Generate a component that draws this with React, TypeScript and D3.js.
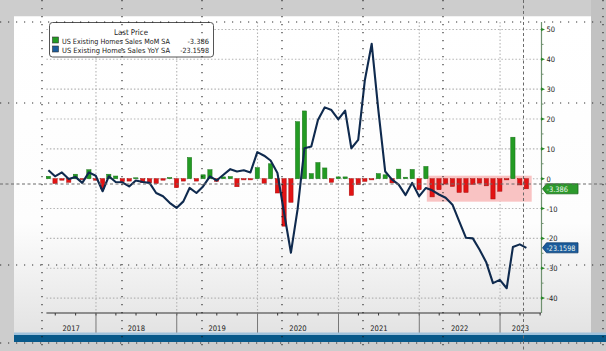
import { useMemo } from "react";
import * as d3 from "d3";

// monthly prints, first one is May 2017 (plotted at month end like the terminal does)
const firstMonth = new Date(2017, 4, 1);
const momSA = [
  0.8, -1.6, -0.5, -1.2, 1.5, -0.3, 3.0, -0.5, -3.4, 1.5,
  0.9, -1.0, -0.8, 0.3, -1.3, -1.4, -1.6, -0.5, 0.4, -3.0,
  -0.8, 7.1, -0.8, 1.3, 3.0, -0.9, 0.6, 0.7, -2.7, -0.4,
  -0.4, 3.7, -1.5, 5.0, -4.8, -15.9, -7.9, 19.1, 22.7, 1.7,
  5.4, 3.6, -1.2, 0.6, 0.6, -5.6, -2.0, -0.9, -0.4, 1.7,
  1.3, -1.4, 3.2, 0.5, 3.1, -3.7, 4.1, -6.1, -3.7, -1.8,
  -2.6, -4.6, -4.6, -1.9, -1.5, -2.4, -6.8, -4.2, -0.4, 13.9,
  -2.1, -3.386,
];
const yoySA = [
  2.8, 0.8, 2.1, -0.1, 0.6, -1.4, 2.1, 1.0, -4.2, 0.8,
  -1.1, -1.2, -2.6, -0.6, -1.1, -1.4, -4.8, -5.9, -8.1, -9.8,
  -7.6, -3.1, -4.8, -2.6, 0.8, -0.6, 1.3, 3.2, 2.4, 2.8,
  2.1, 8.9, 7.7, 6.1, 1.9, -11.4, -24.8, -10.3, 10.2, 10.8,
  19.7, 23.9, 23.0, 19.9, 22.8, 10.2, 13.0, 33.0, 45.2, 23.0,
  2.4, -0.3, -2.0, -5.5, -1.4, -5.9, -3.1, -3.9, -5.3, -6.4,
  -8.7, -14.2, -19.8, -20.0, -23.7, -28.1, -35.0, -33.9, -36.7, -22.9,
  -22.0, -23.1598,
];
const yearLabels = ["2017", "2018", "2019", "2020", "2021", "2022", "2023"];
const rightTicks = [50, 40, 30, 20, 10, 0, -10, -20, -30, -40];
const legendTitle = "Last Price";
const legendNames = ["US Existing Homes Sales MoM SA", "US Existing Homes Sales YoY SA"];
const legendLast = ["-3.386", "-23.1598"];
// run of negative MoM prints shaded by the terminal
const streakFrom = 57;

const font = "'DejaVu Sans Condensed', 'Liberation Sans Narrow', sans-serif";
const green = "#239b23";
const red = "#e21414";
const navy = "#0f2a4e";
const tagBlue = "#1b5c9c";

// squeeze a label to the width it takes on the terminal (about 3.6px a character)
const fitWidth = (s: string) => s.length * 3.6;

export default function App() {
  const layout = useMemo(() => {
    const width = 606;
    const height = 351;
    const plot = { left: 46.4, right: 541, top: 22, bottom: 313 };
    const x = d3.scaleTime().domain([new Date(2017, 4, 22), new Date(2023, 6, 5)]).range([plot.left, plot.right]);
    const y = d3.scaleLinear().domain([-45, 52.5]).range([plot.bottom, plot.top]);
    const dates = momSA.map((_, i) => d3.timeDay.offset(d3.timeMonth.offset(firstMonth, i + 1), -1));
    const step = x(dates[1]) - x(dates[0]);
    const [d0, d1] = x.domain();
    const yearLines = d3.timeYear.range(d3.timeYear.ceil(d0), d1);
    const years = yearLabels.map((label) => {
      const start = new Date(+label, 0, 1);
      const end = new Date(+label + 1, 0, 1);
      const a = x(start < d0 ? d0 : start);
      const b = x(end > d1 ? d1 : end);
      return { label, cx: (a + b) / 2 };
    });
    const quarters = d3.timeMonth.every(3)!.range(d0, d1);
    const minorTicks = d3.range(-40, 51, 5).filter((v) => v % 10 !== 0);
    const streakMin = d3.min(momSA.slice(streakFrom)) ?? 0;
    const streak = {
      x0: x(dates[streakFrom]) - step * 0.8,
      x1: x(dates[dates.length - 1]) + step * 0.8,
      y0: y(1),
      y1: y(streakMin - 0.9),
    };
    return { width, height, plot, x, y, dates, step, yearLines, years, quarters, minorTicks, streak };
  }, []);

  const { x, y, plot, dates } = layout;
  const line = d3
    .line<number>()
    .x((_, i) => x(dates[i]))
    .y((v) => y(v));
  const barW = layout.step * 0.64;
  const lastMom = momSA[momSA.length - 1];
  const lastYoy = yoySA[yoySA.length - 1];

  const tag = (value: number, text: string, fill: string, stroke: string) => {
    const cy = y(value);
    const h = 10;
    const x0 = plot.right + 1.5;
    const x1 = 578;
    const pts = [
      [x0, cy],
      [x0 + 4, cy - h / 2],
      [x1, cy - h / 2],
      [x1, cy + h / 2],
      [x0 + 4, cy + h / 2],
    ];
    return (
      <g>
        <polygon points={pts.map((p) => p.join(",")).join(" ")} fill={fill} stroke={stroke} strokeWidth={0.8} />
        <text x={x0 + 4} y={cy + 3} fontSize="7.5" fill="#eef6ee" fontFamily={font} textLength={fitWidth(text)} lengthAdjust="spacingAndGlyphs">{text}</text>
      </g>
    );
  };

  return (
    <svg
      width={layout.width}
      height={layout.height}
      viewBox={`0 0 ${layout.width} ${layout.height}`}
      style={{ position: "absolute", left: 0, top: 0, display: "block" }}
      role="img"
      aria-label="US existing home sales MoM and YoY"
    >
      <defs>
        <linearGradient id="panelFill" x1="0" x2="0" y1="0" y2="1">
          <stop offset="0" stopColor="#ffffff" />
          <stop offset="0.65" stopColor="#fdfdfd" />
          <stop offset="1" stopColor="#e3e3e3" />
        </linearGradient>
      </defs>

      {/* screen surround */}
      <rect width={layout.width} height={layout.height} fill="#cdcdcd" />
      <rect x={591} y={0} width={15} height={334} fill="#c2c2c2" />
      <rect x={14} y={17} width={577} height={316} fill="url(#panelFill)" />
      <line x1={14} x2={591} y1={16.5} y2={16.5} stroke="#f2f2f2" />

      {/* grid */}
      {rightTicks.map((t) => (
        <line key={`h${t}`} x1={plot.left} x2={plot.right} y1={y(t)} y2={y(t)} stroke="#b4b4b4" strokeWidth={1.1} strokeDasharray="1.5 2" />
      ))}
      {layout.yearLines.map((d) => (
        <line key={`v${+d}`} x1={x(d)} x2={x(d)} y1={plot.top} y2={plot.bottom} stroke="#b4b4b4" strokeWidth={1.1} strokeDasharray="1.5 2" />
      ))}

      <rect
        x={layout.streak.x0}
        y={layout.streak.y0}
        width={layout.streak.x1 - layout.streak.x0}
        height={layout.streak.y1 - layout.streak.y0}
        fill="#f9c3c3"
      />

      {momSA.map((v, i) => (
        <rect
          key={i}
          x={x(dates[i]) - barW / 2}
          y={Math.min(y(v), y(0))}
          width={barW}
          height={Math.abs(y(v) - y(0))}
          fill={v >= 0 ? green : red}
          stroke={v >= 0 ? "#187018" : "#a80c0c"}
          strokeWidth={0.5}
        />
      ))}

      <path d={line(yoySA) ?? ""} fill="none" stroke={navy} strokeWidth={2.1} strokeLinejoin="round" />

      {/* time axis */}
      <line x1={plot.left} x2={plot.right} y1={plot.bottom} y2={plot.bottom} stroke="#333" strokeWidth={1.2} />
      {layout.quarters.map((d) => (
        <line key={`q${+d}`} x1={x(d)} x2={x(d)} y1={plot.bottom} y2={plot.bottom + 2.5} stroke="#333" />
      ))}
      {layout.yearLines.map((d) => (
        <line key={`yd${+d}`} x1={x(d)} x2={x(d)} y1={plot.bottom} y2={333} stroke="#777" />
      ))}
      {layout.years.map((yr) => (
        <text key={yr.label} x={yr.cx} y={331} textAnchor="middle" fontSize="7.6" fill="#222" fontFamily={font}>{yr.label}</text>
      ))}

      {/* value axis on the right */}
      <line x1={plot.right + 0.5} x2={plot.right + 0.5} y1={plot.top} y2={plot.bottom} stroke="#6f916f" strokeWidth={1.2} />
      {layout.minorTicks.map((t) => (
        <line key={`m${t}`} x1={plot.right} x2={plot.right + 2.5} y1={y(t)} y2={y(t)} stroke="#6f916f" />
      ))}
      {rightTicks.map((t) => (
        <g key={`r${t}`}>
          <polygon points={`${plot.right},${y(t) - 1.8} ${plot.right + 4},${y(t)} ${plot.right},${y(t) + 1.8}`} fill="#2a8a2a" />
          <text x={plot.right + 5.5} y={y(t) + 3} fontSize="7.5" fill="#222" fontFamily={font}>{t}</text>
        </g>
      ))}
      {tag(lastMom, legendLast[0], "#2c9a2c", "#1a6a1a")}
      {tag(lastYoy, legendLast[1], tagBlue, "#0e3d6e")}

      {/* bottom bar of the terminal window */}
      <rect x={14} y={332.5} width={592} height={2.5} fill="#9fc2dc" />
      <rect x={14} y={335} width={592} height={7} fill="#08598a" />

      {/* legend */}
      <g fontFamily={font}>
        <rect x={49.5} y={22.5} width={164} height={34.5} rx={3} fill="#ffffff" stroke="#555" strokeWidth={1} />
        <text x={131} y={35} textAnchor="middle" fontSize="7.8" fill="#222">{legendTitle}</text>
        {legendNames.map((name, i) => (
          <g key={name} transform={`translate(0, ${i * 9})`}>
            <rect x={52.5} y={37} width={6} height={6} fill={i === 0 ? green : tagBlue} stroke="#333" strokeWidth={0.6} />
            <text x={62} y={43.5} fontSize="7.2" fill="#222" textLength={108} lengthAdjust="spacingAndGlyphs">{name}</text>
            <text x={209} y={43.5} textAnchor="end" fontSize="7.2" fill="#222" textLength={fitWidth(legendLast[i])} lengthAdjust="spacingAndGlyphs">{legendLast[i]}</text>
          </g>
        ))}
      </g>

      {/* crosshair */}
      <line x1={523.5} x2={523.5} y1={0} y2={layout.height} stroke="#6a6a6a" strokeDasharray="3 2.5" />
      <line x1={0} x2={layout.width} y1={184} y2={184} stroke="#6a6a6a" strokeDasharray="3 2.5" />

      {/* moire dots from the photographed screen */}
      {[22, 103, 265, 343].map((yy) => (
        <line key={`dh${yy}`} x1={0} x2={layout.width} y1={yy} y2={yy} stroke="#111" strokeWidth={1.2} strokeDasharray="1.2 6.8" opacity={0.85} />
      ))}
      {[42, 122, 202, 282, 363, 443, 603].map((xx) => (
        <line key={`dv${xx}`} x1={xx} x2={xx} y1={0} y2={layout.height} stroke="#111" strokeWidth={1.2} strokeDasharray="1.2 6.8" opacity={0.85} />
      ))}
    </svg>
  );
}
